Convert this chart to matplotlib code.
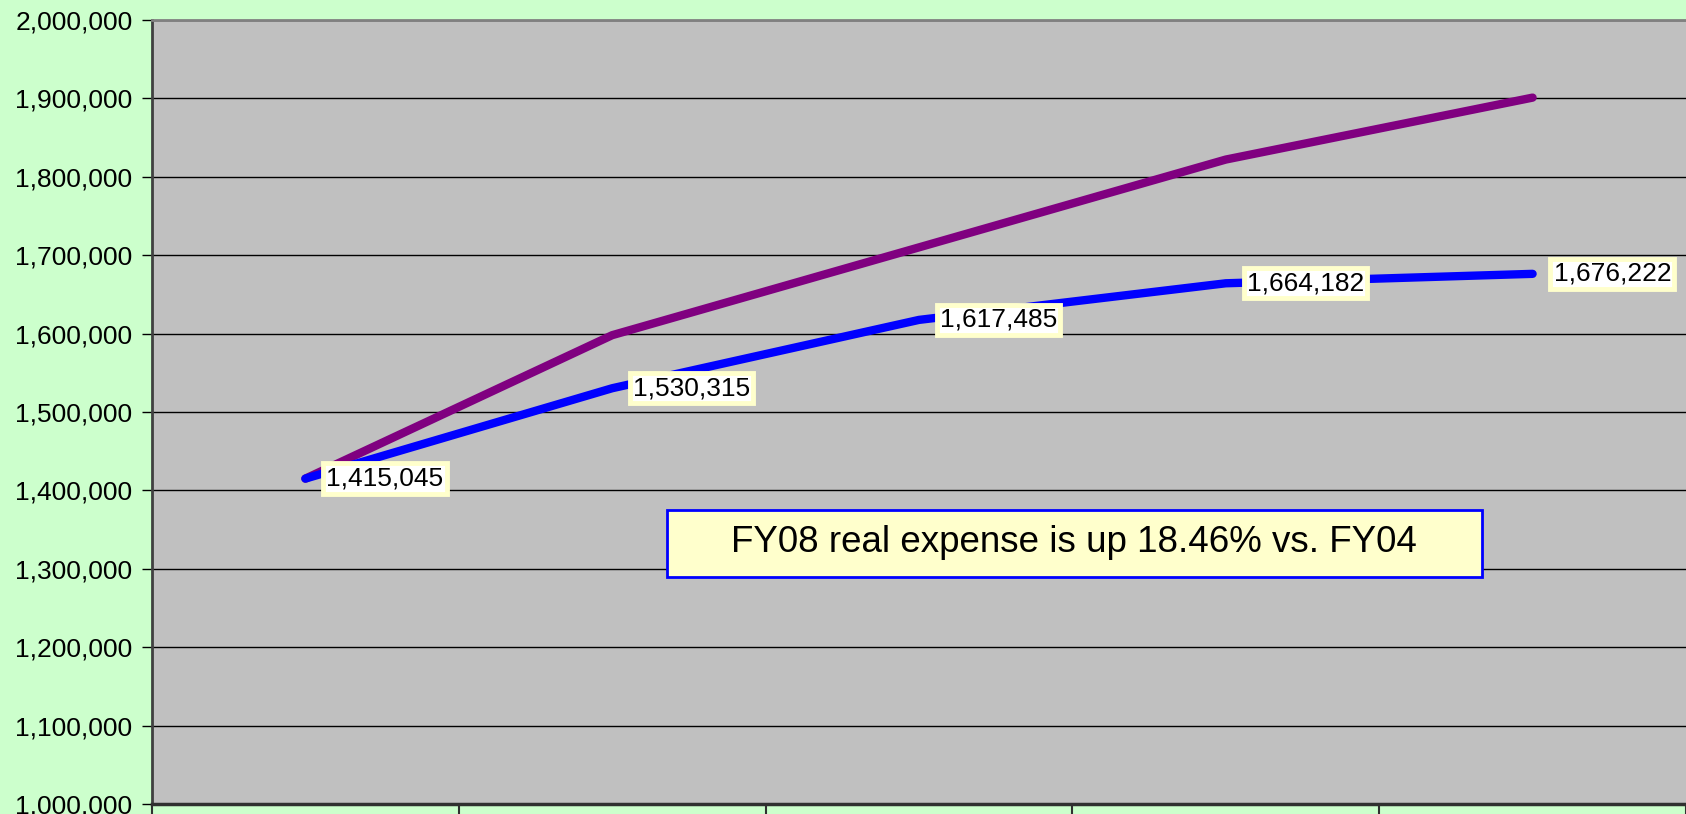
import numpy as np
import matplotlib
matplotlib.use("Agg")
import matplotlib.pyplot as plt
from matplotlib.patches import Rectangle
from matplotlib.ticker import FuncFormatter

plt.rcParams['font.family'] = ['Liberation Sans', 'DejaVu Sans']

# data
years = ["FY04", "FY05", "FY06", "FY07", "FY08"]
real_expense = [1415045, 1530315, 1617485, 1664182, 1676222]
nominal_expense = [1415045, 1598000, 1710000, 1822000, 1901000]
note = "FY08 real expense is up 18.46% vs. FY04"

fig = plt.figure(figsize=(16.86, 8.14), dpi=100, facecolor="#CCFFCC")
ax = fig.add_axes([152 / 1686, 10 / 814, 1534 / 1686, 784 / 814])
ax.set_facecolor("#C0C0C0")

x = np.arange(len(years))
ax.plot(x, nominal_expense, color="#800080", lw=6, solid_capstyle="round", zorder=3)
ax.plot(x, real_expense, color="#0000FF", lw=6, solid_capstyle="round", zorder=4)

# data labels on the real-expense series
for xi, v in zip(x, real_expense):
    ax.annotate(f"{v:,}", (xi, v), xytext=(21, 0), textcoords="offset pixels",
                ha="left", va="center", fontsize=19, color="black", zorder=6,
                bbox=dict(boxstyle="square,pad=0.12", fc="white", ec="#FFFFCC", lw=3.5))

ax.set_xlim(-0.5, len(years) - 0.5)
ax.set_ylim(1000000, 2000000)
ax.set_yticks(np.arange(1000000, 2000001, 100000))
ax.yaxis.set_major_formatter(FuncFormatter(lambda v, p: f"{int(v):,}"))
ax.set_xticks(np.arange(-0.5, len(years), 1.0))
ax.set_xticklabels([])
ax.grid(axis="y", color="black", lw=1)
ax.set_axisbelow(True)
ax.tick_params(axis="y", direction="out", length=7, width=1, pad=7, labelsize=19, color="black")
ax.tick_params(axis="x", direction="out", length=12, width=1.5, color="#303030")

ax.spines["left"].set_color("#404040")
ax.spines["left"].set_linewidth(2)
ax.spines["bottom"].set_color("#303030")
ax.spines["bottom"].set_linewidth(2.5)
ax.spines["top"].set_color("#808080")
ax.spines["top"].set_linewidth(2)
ax.spines["right"].set_visible(False)

# note box
ax.add_patch(Rectangle((0.3357, 0.2895), 0.531, 0.0855, transform=ax.transAxes,
                       fc="#FFFFCC", ec="#0000FF", lw=2, zorder=7))
ax.text(0.601, 0.333, note, transform=ax.transAxes, ha="center", va="center",
        fontsize=26.5, color="black", zorder=8)

fig.savefig("out.png", dpi=100, facecolor=fig.get_facecolor())
